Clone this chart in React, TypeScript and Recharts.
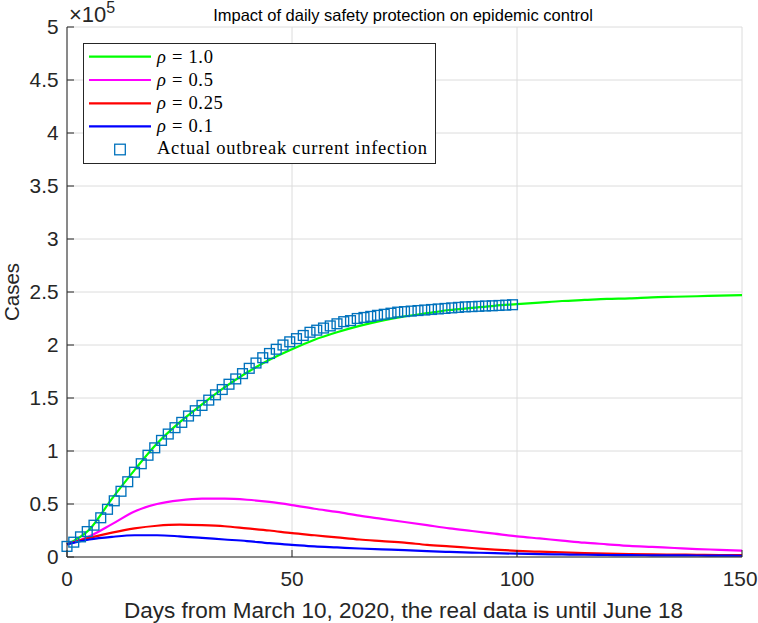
import React from 'react';
import { ComposedChart, Line, Scatter, XAxis, YAxis, CartesianGrid } from 'recharts';

const W = 758;
const H = 623;

// model output, sampled every 5 days (cases)
const MODEL_DAYS = [0, 5, 10, 15, 20, 25, 30, 35, 40, 45, 50, 55, 60, 65, 70, 75, 80, 85, 90, 95, 100, 105, 110, 115, 120, 125, 130, 135, 140, 145, 150];
const RHO_1_0 = [12000, 26000, 55000, 82000, 107000, 127000, 144000, 160000, 174000, 186000, 196000, 205000, 212000, 218000, 223000, 227000, 230000, 233000, 235000, 237000, 238500, 240000, 241500, 242500, 243500, 244000, 245000, 245500, 246000, 246500, 247000];
const RHO_0_5 = [12000, 19500, 31000, 43000, 50000, 53500, 55000, 55000, 54000, 52000, 49000, 45500, 42500, 39000, 36000, 33000, 30000, 27000, 24500, 22000, 19500, 17500, 15500, 13500, 12000, 10500, 9500, 8500, 7500, 6800, 6000];
const RHO_0_25 = [12000, 18000, 23000, 27000, 29500, 30500, 30000, 29000, 27000, 25000, 22500, 20500, 18500, 16500, 15000, 13500, 11500, 10000, 8500, 7000, 5800, 5000, 4300, 3700, 3200, 2800, 2500, 2300, 2100, 1900, 1800];
const RHO_0_1 = [12000, 16500, 19000, 20500, 20500, 19500, 18000, 16500, 15000, 13000, 11500, 10000, 9000, 8000, 7200, 6500, 5500, 4800, 4200, 3600, 3100, 2700, 2400, 2100, 1900, 1700, 1600, 1500, 1400, 1300, 1200];

// reported current infections
const ACTUAL_DAYS = [0, 1.5, 3, 4.5, 6, 7.5, 9, 10.5, 12, 13.5, 15, 16.5, 18, 19.5, 21, 22.5, 24, 25.5, 27, 28.5, 30, 31.5, 33, 34.5, 36, 37.5, 39, 40.5, 42, 43.5, 45, 46.5, 48, 49.5, 51, 52.5, 54, 55.5, 57, 58.5, 60, 61.5, 63, 64.5, 66, 67.5, 69, 70.5, 72, 73.5, 75, 76.5, 78, 79.5, 81, 82.5, 84, 85.5, 87, 88.5, 90, 91.5, 93, 94.5, 96, 97.5, 99];
const ACTUAL_CASES = [10000, 14000, 19000, 24000, 30000, 37000, 45000, 53000, 62000, 71000, 80000, 88000, 96000, 103000, 110000, 116000, 122000, 127000, 133000, 138000, 143000, 148000, 153000, 158000, 163000, 168000, 173000, 178000, 183000, 188000, 192000, 196000, 200000, 203000, 206000, 209000, 212000, 214000, 216000, 218000, 220000, 222000, 223000, 225000, 226000, 227000, 228000, 229000, 230000, 231000, 231500, 232000, 232500, 233000, 233500, 234000, 234500, 235000, 235500, 236000, 236200, 236500, 236800, 237000, 237300, 237600, 238000];

const X_TICKS = [0, 50, 100, 150];
const Y_TICKS = [0, 50000, 100000, 150000, 200000, 250000, 300000, 350000, 400000, 450000, 500000];

const SERIES = [
  { name: '1.0', color: '#00ff00', values: RHO_1_0 },
  { name: '0.5', color: '#ff00ff', values: RHO_0_5 },
  { name: '0.25', color: '#ff0000', values: RHO_0_25 },
  { name: '0.1', color: '#0000ff', values: RHO_0_1 },
];

const AXIS = '#262626';
const GRID = '#dcdcdc';
const MARKER = '#0072bd';
const SANS = '"Liberation Sans", Arial, Helvetica, sans-serif';
const SERIF = '"Liberation Serif", "Times New Roman", serif';
const TICK_LEN = 7;
const TICK_FONT = 20.8;
const LABEL_FONT = 22.5;

const actualData = ACTUAL_DAYS.map((day, i) => ({ day, cases: ACTUAL_CASES[i] }));

const fmtY = (v: number) => String(v / 1e5);

const LeftTick = ({ x, y, payload }: any) => (
  <g>
    <line x1={x} x2={x + TICK_LEN} y1={y} y2={y} stroke={AXIS} />
    <text x={x - 8.5} y={y} dy="0.36em" textAnchor="end" fontSize={TICK_FONT} fontFamily={SANS} fill={AXIS}>
      {fmtY(payload.value)}
    </text>
  </g>
);

const RightTick = ({ x, y }: any) => (
  <line x1={x - TICK_LEN} x2={x} y1={y} y2={y} stroke={AXIS} />
);

const BottomTick = ({ x, y, payload }: any) => {
  // keep the last label inside the page, as the figure does
  const last = payload.value === X_TICKS[X_TICKS.length - 1];
  return (
    <g>
      <line x1={x} x2={x} y1={y - TICK_LEN} y2={y} stroke={AXIS} />
      <text
        x={last ? W - 0.5 : x}
        y={y + 29.4}
        textAnchor={last ? 'end' : 'middle'}
        fontSize={TICK_FONT}
        fontFamily={SANS}
        fill={AXIS}
      >
        {payload.value}
      </text>
    </g>
  );
};

const TopTick = ({ x, y }: any) => (
  <line x1={x} x2={x} y1={y} y2={y + TICK_LEN} stroke={AXIS} />
);

const Square = (props: any) => {
  const { cx, cy } = props;
  if (cx == null || cy == null) return null;
  return <rect x={cx - 4.9} y={cy - 4.9} width={9.8} height={9.8} fill="none" stroke={MARKER} strokeWidth={1.35} />;
};

const Overlay = () => {
  const rowY = [56.7, 80, 103.3, 126.3];
  return (
    <svg width={W} height={H} style={{ position: 'absolute', left: 0, top: 0, pointerEvents: 'none' }}>
      <text x={403} y={20.5} textAnchor="middle" fontSize={16.5} fontFamily={SANS} fill="#000">
        Impact of daily safety protection on epidemic control
      </text>
      <text x={69} y={22} fontSize={22} fontFamily={SANS} fill={AXIS}>
        ×10<tspan dy={-9.5} fontSize={16}>5</tspan>
      </text>
      <text transform="rotate(-90)" x={-292} y={18.5} textAnchor="middle" fontSize={20.5} fontFamily={SANS} fill={AXIS}>
        Cases
      </text>
      <text x={403.5} y={618} textAnchor="middle" fontSize={LABEL_FONT} fontFamily={SANS} fill={AXIS}>
        Days from March 10, 2020, the real data is until June 18
      </text>

      <rect x={83.5} y={43.5} width={352} height={120} fill="#fff" stroke={AXIS} strokeWidth={1} />
      {SERIES.map((s, i) => (
        <g key={s.name}>
          <line x1={89} x2={151} y1={rowY[i]} y2={rowY[i]} stroke={s.color} strokeWidth={2.2} />
          <text x={157} y={rowY[i] + 6} fontSize={18.5} fontFamily={SERIF} fill="#000" letterSpacing={0.7}>
            <tspan fontStyle="italic">ρ</tspan> = {s.name}
          </text>
        </g>
      ))}
      <rect x={114.7} y={144.2} width={10.6} height={10.6} fill="none" stroke={MARKER} strokeWidth={1.3} />
      <text x={157} y={154} fontSize={18.5} fontFamily={SERIF} fill="#000" letterSpacing={0.75}>
        Actual outbreak current infection
      </text>
    </svg>
  );
};

export default function App() {
  return (
    <div style={{ position: 'absolute', left: 0, top: 0, width: W, height: H, background: '#fff' }}>
      <ComposedChart width={W} height={H} margin={{ top: 27, right: 16, bottom: 0, left: 0 }}>
        <CartesianGrid stroke={GRID} strokeWidth={1} />
        <XAxis
          type="number"
          dataKey="day"
          domain={[0, 150]}
          ticks={X_TICKS}
          height={66}
          tickSize={0}
          tickMargin={0}
          tickLine={false}
          axisLine={{ stroke: AXIS }}
          tick={<BottomTick />}
        />
        <XAxis
          xAxisId="top"
          orientation="top"
          type="number"
          domain={[0, 150]}
          ticks={X_TICKS}
          height={0}
          tickSize={0}
          tickMargin={0}
          tickLine={false}
          axisLine={{ stroke: AXIS }}
          tick={<TopTick />}
        />
        <YAxis
          type="number"
          dataKey="cases"
          domain={[0, 500000]}
          ticks={Y_TICKS}
          width={67}
          tickSize={0}
          tickMargin={0}
          tickLine={false}
          axisLine={{ stroke: AXIS }}
          tick={<LeftTick />}
        />
        <YAxis
          yAxisId="right"
          orientation="right"
          type="number"
          domain={[0, 500000]}
          ticks={Y_TICKS}
          width={0}
          tickSize={0}
          tickMargin={0}
          tickLine={false}
          axisLine={{ stroke: AXIS }}
          tick={<RightTick />}
        />
        {SERIES.map((s) => (
          <Line
            key={s.name}
            data={MODEL_DAYS.map((day, i) => ({ day, cases: s.values[i] }))}
            dataKey="cases"
            type="monotone"
            stroke={s.color}
            strokeWidth={2.2}
            dot={false}
            isAnimationActive={false}
          />
        ))}
        <Scatter data={actualData} dataKey="cases" shape={<Square />} isAnimationActive={false} />
      </ComposedChart>
      <Overlay />
    </div>
  );
}
